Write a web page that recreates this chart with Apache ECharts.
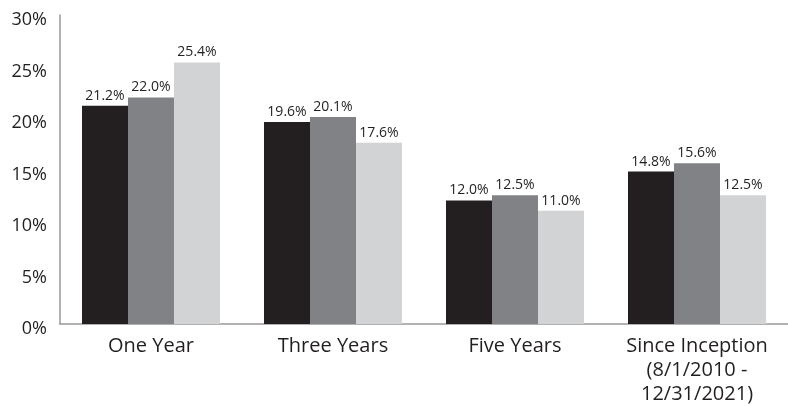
<!DOCTYPE html>
<html><head><meta charset="utf-8">
<script src="https://cdn.jsdelivr.net/npm/echarts@6/dist/echarts.min.js"></script>
<style>html,body{margin:0;padding:0;background:#fff}#c{width:788px;height:406px}</style>
</head><body><div id="c"></div>
<script>
const categories = ['One Year', 'Three Years', 'Five Years', 'Since Inception\n(8/1/2010 -\n12/31/2021)'];
const seriesA = [21.2, 19.6, 12.0, 14.8];
const seriesB = [22.0, 20.1, 12.5, 15.6];
const seriesC = [25.4, 17.6, 11.0, 12.5];
const yTicks = [0, 5, 10, 15, 20, 25, 30];
const colors = ['#231f20', '#808285', '#d1d3d4'];
const font = '"Open Sans", sans-serif';
const chart = echarts.init(document.getElementById('c'));
function mk(data, color) {
  return {
    type: 'bar', data: data, barWidth: 46, barGap: '0%',
    itemStyle: { color: color },
    label: { show: true, position: 'top', distance: 3, color: '#231f20', fontSize: 14, fontFamily: font,
      formatter: p => p.value.toFixed(1) + '%' }
  };
}
chart.setOption({
  animation: false,
  grid: { left: 60, top: 15, width: 732, height: 313, containLabel: false },
  xAxis: {
    type: 'category', data: categories,
    axisLine: { lineStyle: { color: '#999', width: 1.5 } },
    axisTick: { show: false },
    axisLabel: { color: '#231f20', fontSize: 20, fontFamily: font, lineHeight: 24, margin: 10, interval: 0 }
  },
  yAxis: {
    type: 'value', min: yTicks[0], max: yTicks[yTicks.length - 1], interval: 5,
    axisLine: { show: true, lineStyle: { color: '#999', width: 1.5 } },
    axisTick: { show: false },
    splitLine: { show: false },
    axisLabel: { color: '#231f20', fontSize: 18, fontFamily: font, margin: 13, verticalAlign: 'top', lineHeight: 10,
      formatter: v => v + '%' }
  },
  series: [mk(seriesA, colors[0]), mk(seriesB, colors[1]), mk(seriesC, colors[2])]
});
</script></body></html>
